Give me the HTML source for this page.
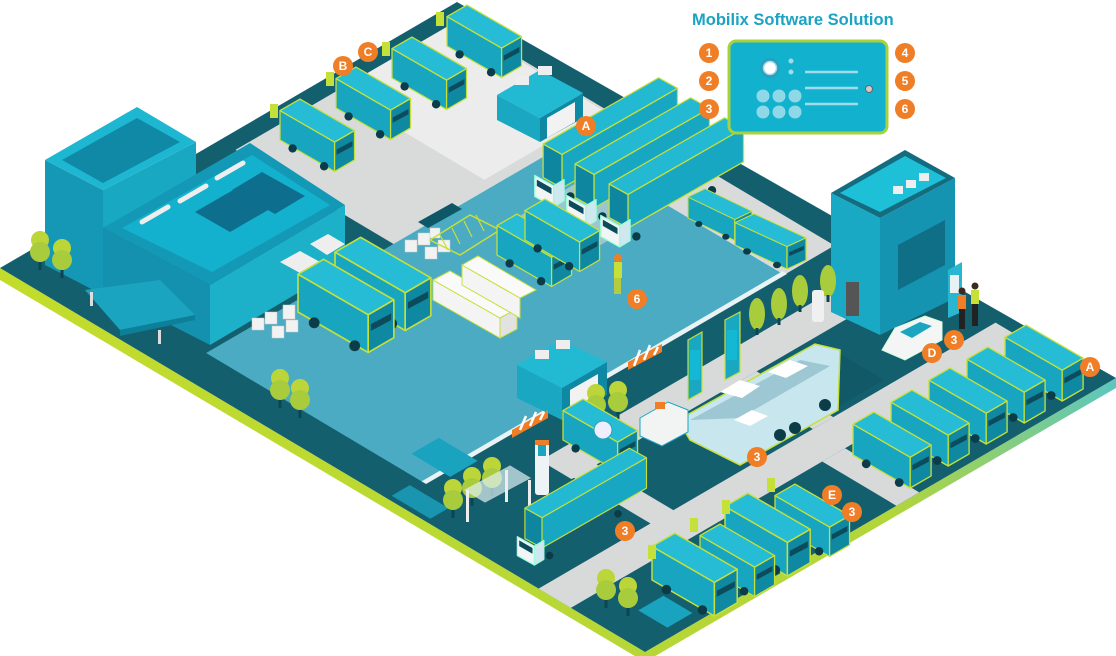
<!DOCTYPE html>
<html><head><meta charset="utf-8"><style>
html,body{margin:0;padding:0;background:#fff;}
svg{display:block;}
.b{font-family:"Liberation Sans",sans-serif;font-weight:bold;font-size:12px;fill:#fff;text-anchor:middle;}
</style></head><body>
<svg width="1116" height="656" viewBox="0 0 1116 656" xmlns="http://www.w3.org/2000/svg">
<defs>
<g id="van" stroke="#c6e03a" stroke-width="1.2" stroke-linejoin="round">
 <path d="M0,0 L52,30 L52,2 L0,-28 Z" fill="#17a5c0"/>
 <path d="M52,30 L71,19 L71,-9 L52,2 Z" fill="#0f88a2"/>
 <path d="M0,-28 L52,2 L71,-9 L19,-39 Z" fill="#27bcd5"/>
 <path d="M54,14 L69,6 L69,1 L54,9 Z" fill="#0b4c5c" stroke="none"/>
 <circle cx="12" cy="8" r="4" fill="#0b3c48" stroke="none"/>
 <circle cx="42" cy="25" r="4" fill="#0b3c48" stroke="none"/>
</g>
<g id="trailer" stroke="#c6e03a" stroke-width="1.2" stroke-linejoin="round">
 <path d="M0,0 L110,-63 L110,-95 L0,-32 Z" fill="#17a7c2"/>
 <path d="M0,0 L-18,-10 L-18,-42 L0,-32 Z" fill="#0e86a0"/>
 <path d="M0,-32 L110,-95 L92,-105 L-18,-42 Z" fill="#23b9d2"/>
 <path d="M-8,18 L-26,8 L-26,-12 L-8,-2 Z" fill="#f2f5f5" stroke="#9fd"/>
 <path d="M-8,18 L2,12 L2,-8 L-8,-2 Z" fill="#cfe7ee" stroke="#9fd"/>
 <path d="M-10,6 L-24,-2 L-24,-8 L-10,0 Z" fill="#0b4c5c" stroke="none"/>
 <circle cx="8" cy="8" r="4" fill="#0b3c48" stroke="none"/>
 <circle cx="80" cy="-36" r="4" fill="#0b3c48" stroke="none"/>
</g>
<g id="tree">
 <circle cx="0" cy="-22" r="9" fill="#bcd63a"/>
 <circle cx="0" cy="-10" r="10" fill="#a9cc3c"/>
 <rect x="-1.5" y="0" width="3" height="8" fill="#0c4552"/>
</g>
<g id="cone">
 <ellipse cx="0" cy="-14" rx="8" ry="16" fill="#a9cc3c"/>
 <rect x="-1.5" y="0" width="3" height="7" fill="#0c4552"/>
</g>
<linearGradient id="edge" x1="0" x2="1" y1="0" y2="0">
 <stop offset="0" stop-color="#c3dc2c"/><stop offset="0.8" stop-color="#b2d53a"/><stop offset="1" stop-color="#5cc6c0"/>
</linearGradient>
</defs>

<!-- ground thickness / lime edge -->
<polygon points="0,268 645,652 1116,378 1116,388 645,662 0,280" fill="url(#edge)"/>
<!-- ground -->
<polygon points="0,268 457,2 1116,378 645,652" fill="#145f6e"/>

<!-- iso plane features -->
<g transform="matrix(0.645 0.384 0.457 -0.266 0 268)">
 <!-- gray upper areas -->
 <rect x="25" y="480" width="585" height="485" fill="#d9dbdb"/>
 <rect x="25" y="700" width="230" height="260" fill="#ececec"/>
 <!-- asphalt -->
 <polygon points="270,70 605,70 605,855 430,855 430,820 270,820" fill="#4aabc3"/>
 <!-- truck pad -->
 <rect x="450" y="860" width="155" height="100" fill="#d9dbdb"/>
 <rect x="330" y="660" width="100" height="140" fill="#d4d8d8" opacity="0.6"/>
 <!-- white wall line -->
 <rect x="604" y="70" width="7" height="790" fill="#e9f2f4"/>
 <!-- right lots roads -->
 <rect x="835" y="0" width="50" height="1000" fill="#d8dada"/>
 <rect x="885" y="550" width="115" height="50" fill="#d8dada"/>
 <rect x="668" y="240" width="48" height="760" fill="#d8dada"/>
 <rect x="668" y="245" width="170" height="50" fill="#d8dada"/>
 <rect x="716" y="600" width="119" height="45" fill="#d8dada"/>
 <!-- carrier lot shade -->
 <rect x="725" y="470" width="100" height="300" fill="#0f5361" opacity="0.5"/>
 <!-- left light pads for trees -->
 <rect x="40" y="90" width="60" height="70" fill="#1aa3bf"/>
 <rect x="560" y="110" width="60" height="60" fill="#1aa3bf"/>
 <rect x="940" y="70" width="45" height="55" fill="#1aa3bf"/>
 <rect x="600" y="10" width="60" height="40" fill="#1aa3bf" opacity="0.8"/>
</g>

<!-- left big building -->
<polygon points="45,160 103,190 103,295 45,265" fill="#1598b5"/>
<polygon points="103,190 196,142 196,180 103,228" fill="#19a8c2"/>
<polygon points="45,160 137,107 196,142 103,190" fill="#1eb7d1"/>
<polygon points="62,160 137,118 180,142 103,183" fill="#1089a6"/>
<polygon points="103,228 210,285 210,345 103,290" fill="#1491ae"/>
<polygon points="210,285 345,205 345,265 210,345" fill="#1cb1c9"/>
<polygon points="103,228 250,143 345,205 210,285" fill="#1398b6"/>
<polygon points="122,228 252,155 330,205 212,272" fill="#13b1cd"/>
<polygon points="195,212 240,186 275,206 230,232" fill="#0d6f8d"/>
<polygon points="232,190 262,172 305,196 275,214" fill="#0d6f8d"/>
<path d="M142,222 L168,207 M180,201 L206,186 M217,178 L243,163" stroke="#eee" stroke-width="5" stroke-linecap="round"/>
<polygon points="85,290 160,280 195,315 120,330" fill="#1aa4c0"/>
<polygon points="120,330 195,315 195,320 120,336" fill="#0e7f99"/>
<rect x="90" y="292" width="3" height="14" fill="#ddd"/><rect x="158" y="330" width="3" height="14" fill="#ddd"/>
<polygon points="280,262 300,251 320,262 300,273" fill="#eee"/>
<polygon points="310,244 328,234 345,244 327,255" fill="#eee"/>

<!-- boxes -->
<g fill="#f2f2f2" stroke="#ccc" stroke-width="0.5">
 <rect x="252" y="318" width="12" height="12"/><rect x="265" y="312" width="12" height="12"/><rect x="272" y="326" width="12" height="12"/><rect x="286" y="320" width="12" height="12"/><rect x="283" y="305" width="12" height="14"/>
 <rect x="405" y="240" width="12" height="12"/><rect x="418" y="233" width="12" height="12"/><rect x="425" y="247" width="12" height="12"/><rect x="438" y="240" width="12" height="12"/><rect x="430" y="228" width="10" height="10"/>
</g>
<!-- hatched zone -->
<polygon points="430,240 470,215 500,230 460,255" fill="none" stroke="#c6e03a" stroke-width="1.5"/>
<path d="M440,235 L448,250 M452,228 L460,244 M464,221 L472,237 M476,215 L484,231" stroke="#c6e03a" stroke-width="1.2"/>
<polygon points="418,222 452,203 462,209 428,228" fill="#0e5766"/>

<!-- top small building -->
<polygon points="497,95 540,118 540,142 497,120" fill="#1aa7c2"/>
<polygon points="540,118 583,93 583,118 540,142" fill="#0f88a3"/>
<polygon points="497,95 540,70 583,93 540,118" fill="#22b9d2"/>
<polygon points="547,118 575,102 575,122 547,138" fill="#f2f2f2"/>
<rect x="515" y="76" width="14" height="9" fill="#eee"/><rect x="538" y="66" width="14" height="9" fill="#eee"/>

<!-- top vans -->
<use href="#van" transform="translate(280,140) scale(1.05)"/>
<use href="#van" transform="translate(336,108) scale(1.05)"/>
<use href="#van" transform="translate(392,78) scale(1.05)"/>
<use href="#van" transform="translate(447,46) scale(1.05)"/>
<g fill="#c6e03a"><rect x="270" y="104" width="8" height="14"/><rect x="326" y="72" width="8" height="14"/><rect x="382" y="42" width="8" height="14"/><rect x="436" y="12" width="8" height="14"/></g>

<!-- trucks A -->
<use href="#trailer" transform="translate(562,188) scale(1.05)"/>
<use href="#trailer" transform="translate(594,208) scale(1.05)"/>
<use href="#trailer" transform="translate(628,228) scale(1.05)"/>
<!-- pickups -->
<use href="#van" transform="translate(688,218) scale(0.9,0.75)"/>
<use href="#van" transform="translate(735,245) scale(1.0,0.8)"/>

<!-- center vans & trailers -->
<use href="#van" transform="translate(497,255) scale(1.05)"/>
<use href="#van" transform="translate(525,240) scale(1.05)"/>
<use href="#van" transform="translate(335,290) scale(1.35)"/>
<use href="#van" transform="translate(298,312) scale(1.35)"/>
<g stroke="#c6e03a" stroke-width="1">
 <polygon points="433,280 500,318 500,338 433,300" fill="#f4f4f4"/>
 <polygon points="433,280 450,271 517,309 500,318" fill="#fafafa"/>
 <polygon points="500,318 517,309 517,329 500,338" fill="#e2e2e2"/>
 <polygon points="462,265 520,298 520,318 462,285" fill="#f4f4f4"/>
 <polygon points="462,265 478,256 536,290 520,298" fill="#fafafa"/>
</g>
<!-- worker -->
<rect x="614" y="262" width="8" height="16" fill="#c6e03a"/><circle cx="618" cy="258" r="4" fill="#f07e26"/><rect x="614" y="278" width="7" height="16" fill="#b6cc40"/>

<!-- center small building -->
<polygon points="517,365 562,388 562,420 517,398" fill="#1aa7c2"/>
<polygon points="562,388 607,362 607,395 562,420" fill="#0f88a3"/>
<polygon points="517,365 560,340 607,362 562,388" fill="#22b9d2"/>
<polygon points="570,390 598,374 598,398 570,414" fill="#f2f2f2"/>
<rect x="535" y="350" width="14" height="9" fill="#eee"/><rect x="556" y="340" width="14" height="9" fill="#eee"/>
<!-- barriers -->
<polygon points="628,362 662,344 662,352 628,370" fill="#f07e26"/>
<polygon points="512,430 548,410 548,418 512,438" fill="#f07e26"/>
<path d="M634,366 L640,350 M644,360 L650,345 M654,355 L658,347 M520,430 L526,416 M530,426 L536,412 M540,420 L544,412" stroke="#fff" stroke-width="2.5"/>

<!-- right building -->
<polygon points="831,193 880,218 880,335 831,312" fill="#1aa9c4"/>
<polygon points="880,218 955,178 955,298 880,335" fill="#1594b1"/>
<polygon points="831,193 905,150 955,178 880,218" fill="#136c80"/>
<polygon points="840,193 905,156 946,178 880,212" fill="#1ec0d8"/>
<polygon points="898,245 945,220 945,265 898,290" fill="#0f6f86"/>
<rect x="893" y="186" width="10" height="8" fill="#eee"/><rect x="906" y="180" width="10" height="8" fill="#eee"/><rect x="919" y="173" width="10" height="8" fill="#eee"/>
<rect x="846" y="282" width="13" height="34" fill="#555"/>
<polygon points="948,270 962,262 962,312 948,318" fill="#29b6d0"/>
<rect x="950" y="275" width="9" height="18" fill="#e8f2f4"/>
<!-- people -->
<rect x="958" y="295" width="8" height="14" fill="#f07e26"/><circle cx="962" cy="291" r="3.5" fill="#3a2a20"/><rect x="959" y="309" width="6" height="20" fill="#222"/>
<rect x="971" y="290" width="8" height="14" fill="#c6e03a"/><circle cx="975" cy="286" r="3.5" fill="#3a2a20"/><rect x="972" y="304" width="6" height="22" fill="#222"/>
<!-- white car D -->
<path d="M882,350 L895,328 L925,316 L942,322 L942,340 L905,360 Z" fill="#f4f6f6" stroke="#cfd" stroke-width="1"/>
<path d="M900,332 L920,322 L932,326 L912,338 Z" fill="#1aa6c0"/>

<!-- charging kiosks and trees by wall -->
<use href="#cone" transform="translate(779,318)"/><use href="#cone" transform="translate(800,305)"/><use href="#cone" transform="translate(757,328)"/><use href="#cone" transform="translate(828,295)"/>
<g stroke="#c6e03a" stroke-width="1.2">
 <polygon points="688,340 702,332 702,392 688,400" fill="#1aa7c2"/>
 <polygon points="725,320 740,312 740,372 725,380" fill="#1aa7c2"/>
</g>
<rect x="690" y="350" width="10" height="30" fill="#12b8d4"/><rect x="727" y="330" width="10" height="30" fill="#12b8d4"/>
<rect x="812" y="290" width="12" height="32" rx="3" fill="#f0f0f0"/>

<!-- car carrier -->
<polygon points="678,420 815,344 840,350 838,410 740,465 690,440" fill="#c7e6ee" stroke="#c6e03a" stroke-width="1.5"/>
<polygon points="690,420 800,360 830,366 740,418" fill="#8ab9c8" opacity="0.7"/>
<path d="M720,392 L740,380 L760,386 L742,398 Z M768,372 L790,360 L808,366 L786,378 Z M734,420 L752,410 L768,416 L750,426 Z" fill="#fff"/>
<circle cx="780" cy="435" r="6" fill="#0b3c48"/><circle cx="795" cy="428" r="6" fill="#0b3c48"/><circle cx="825" cy="405" r="6" fill="#0b3c48"/>
<!-- small white vehicle -->
<polygon points="640,418 668,402 688,410 688,432 662,446 640,436" fill="#f2f4f4" stroke="#1aa6c0"/>
<rect x="655" y="402" width="10" height="7" fill="#f07e26"/>

<!-- trees -->
<use href="#tree" transform="translate(40,262)"/><use href="#tree" transform="translate(62,270)"/>
<use href="#tree" transform="translate(280,400)"/><use href="#tree" transform="translate(300,410)"/>
<use href="#tree" transform="translate(596,415)"/><use href="#tree" transform="translate(618,412)"/>
<use href="#tree" transform="translate(606,600)"/><use href="#tree" transform="translate(628,608)"/>
<use href="#tree" transform="translate(453,510)"/><use href="#tree" transform="translate(472,498)"/><use href="#tree" transform="translate(492,488)"/>

<!-- wifi van + bus shelter + charger -->
<use href="#van" transform="translate(563,440) scale(1.05)"/>
<circle cx="603" cy="430" r="9" fill="#eef" stroke="#1aa6c0"/>
<polygon points="465,490 510,466 530,478 485,502" fill="#dfeff3" opacity="0.7" stroke="#eee"/>
<rect x="466" y="490" width="3" height="32" fill="#eee"/><rect x="505" y="470" width="3" height="32" fill="#eee"/><rect x="528" y="480" width="3" height="32" fill="#eee"/>
<rect x="535" y="440" width="14" height="55" rx="3" fill="#eef3f5"/><rect x="538" y="444" width="8" height="12" fill="#1aa6c0"/><rect x="535" y="440" width="14" height="5" fill="#f07e26"/>

<!-- bottom truck -->
<use href="#trailer" transform="translate(542,548) scale(0.95)"/>

<!-- E lot vans -->
<use href="#van" transform="translate(775,525) scale(1.05)"/>
<use href="#van" transform="translate(725,540) scale(1.2)"/>
<use href="#van" transform="translate(700,565) scale(1.05)"/>
<use href="#van" transform="translate(652,580) scale(1.2)"/>
<g fill="#c6e03a"><rect x="767" y="478" width="8" height="14"/><rect x="722" y="500" width="8" height="14"/><rect x="690" y="518" width="8" height="14"/><rect x="648" y="545" width="8" height="14"/></g>

<!-- right lot vans -->
<use href="#van" transform="translate(1005,368) scale(1.1)"/>
<use href="#van" transform="translate(967,390) scale(1.1)"/>
<use href="#van" transform="translate(929,411) scale(1.1)"/>
<use href="#van" transform="translate(891,433) scale(1.1)"/>
<use href="#van" transform="translate(853,455) scale(1.1)"/>

<!-- badges -->
<g fill="#f07e26">
<circle cx="343" cy="66" r="10"/><circle cx="368" cy="52" r="10"/><circle cx="586" cy="126" r="10"/><circle cx="637" cy="299" r="10"/>
<circle cx="932" cy="353" r="10"/><circle cx="954" cy="340" r="10"/><circle cx="1090" cy="367" r="10"/><circle cx="757" cy="457" r="10"/>
<circle cx="832" cy="495" r="10"/><circle cx="852" cy="512" r="10"/><circle cx="625" cy="531" r="10"/>
</g>
<text class="b" x="343" y="70">B</text><text class="b" x="368" y="56">C</text><text class="b" x="586" y="130">A</text><text class="b" x="637" y="303">6</text>
<text class="b" x="932" y="357">D</text><text class="b" x="954" y="344">3</text><text class="b" x="1090" y="371">A</text><text class="b" x="757" y="461">3</text>
<text class="b" x="832" y="499">E</text><text class="b" x="852" y="516">3</text><text class="b" x="625" y="535">3</text>

<!-- legend -->
<text x="692" y="25" font-family="Liberation Sans, sans-serif" font-weight="bold" font-size="16.5" fill="#1aa3c2">Mobilix Software Solution</text>
<rect x="729" y="41" width="158" height="92" rx="7" fill="#12b2cf" stroke="#a8d23c" stroke-width="3"/>
<circle cx="770" cy="68" r="10" fill="#2a9fbf"/><circle cx="770" cy="68" r="6.5" fill="#fff" stroke="#9fdbe8" stroke-width="1.5"/>
<circle cx="791" cy="61" r="2.5" fill="#9fdbe8"/><circle cx="791" cy="72" r="2.5" fill="#9fdbe8"/>
<g fill="#8fd8e8"><circle cx="763" cy="96" r="6.5"/><circle cx="779" cy="96" r="6.5"/><circle cx="795" cy="96" r="6.5"/><circle cx="763" cy="112" r="6.5"/><circle cx="779" cy="112" r="6.5"/><circle cx="795" cy="112" r="6.5"/></g>
<g stroke="#9fdbe8" stroke-width="2.5"><line x1="805" y1="72" x2="858" y2="72"/><line x1="805" y1="88" x2="858" y2="88"/><line x1="805" y1="104" x2="858" y2="104"/></g>
<circle cx="869" cy="89" r="3.5" fill="#ccc" stroke="#666"/>
<g fill="#f07e26"><circle cx="709" cy="53" r="10"/><circle cx="709" cy="81" r="10"/><circle cx="709" cy="109" r="10"/><circle cx="905" cy="53" r="10"/><circle cx="905" cy="81" r="10"/><circle cx="905" cy="109" r="10"/></g>
<text class="b" x="709" y="57">1</text><text class="b" x="709" y="85">2</text><text class="b" x="709" y="113">3</text>
<text class="b" x="905" y="57">4</text><text class="b" x="905" y="85">5</text><text class="b" x="905" y="113">6</text>
</svg>
</body></html>
